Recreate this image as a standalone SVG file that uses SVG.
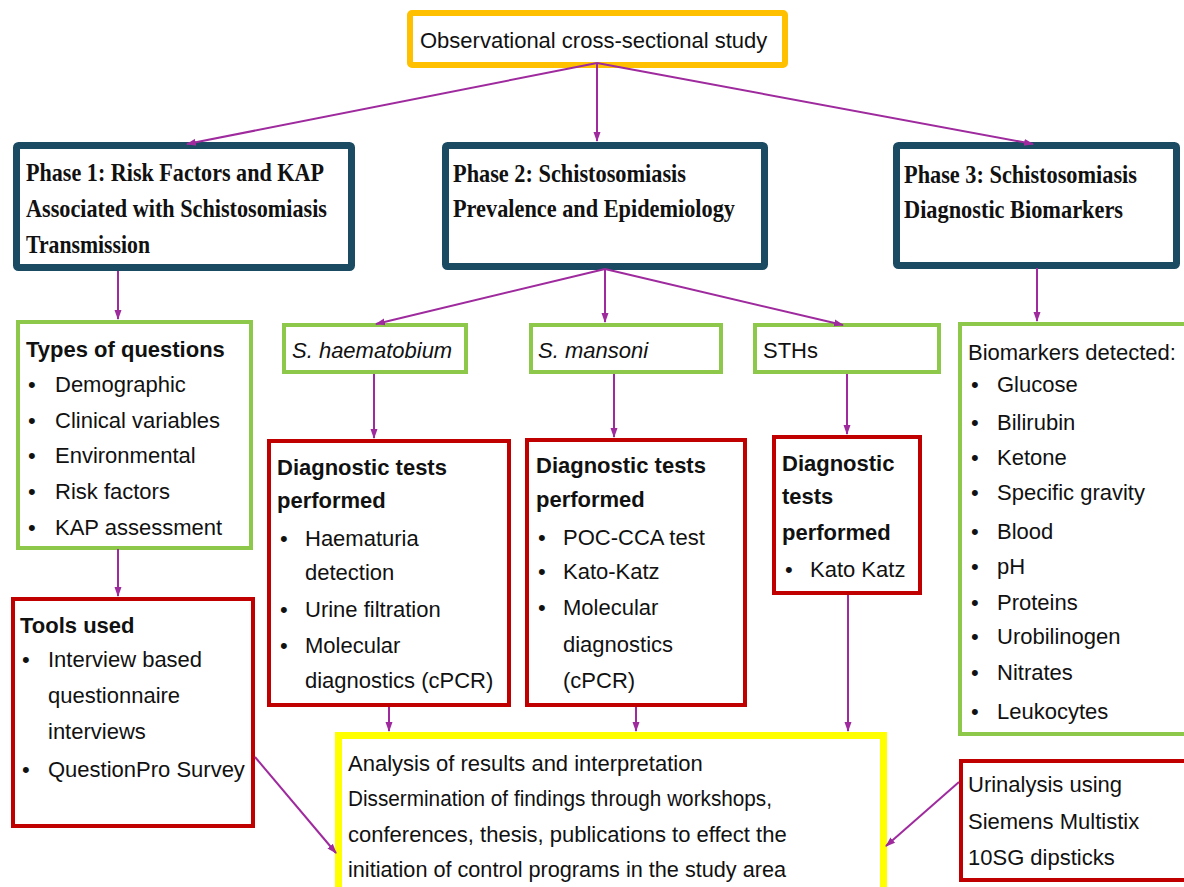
<svg xmlns="http://www.w3.org/2000/svg" width="1184" height="887" viewBox="0 0 1184 887">
<style>
  .t { font-family: "Liberation Sans", Arial, sans-serif; font-size: 22px; fill: #111; }
  .b { font-weight: bold; }
  .i { font-style: italic; }
  .h { font-family: "Liberation Serif", "Times New Roman", serif; font-size: 26px; font-weight: bold; fill: #111; }
  .phase { fill: #fff; stroke: #1B4B62; stroke-width: 7; }
  .green { fill: #fff; stroke: #8DC84B; stroke-width: 4; }
  .red { fill: #fff; stroke: #C00000; stroke-width: 4; }
  .conn { fill: none; stroke: #9E2A9E; stroke-width: 2; marker-end: url(#ah); }
</style>
<defs>
  <marker id="ah" markerUnits="userSpaceOnUse" markerWidth="10" markerHeight="10" viewBox="0 0 10 10" refX="9" refY="5" orient="auto">
    <path d="M0,1.5 L10,5 L0,8.5 Z" fill="#9E2A9E"/>
  </marker>
</defs>
<rect width="1184" height="887" fill="#fff"/>

<g id="top">
  <rect x="410" y="13" width="375" height="52" rx="2" fill="#fff" stroke="#FFC000" stroke-width="6"/>
  <text class="t" x="420" y="48">Observational cross-sectional study</text>
</g>

<g id="phase1">
  <rect class="phase" x="16.5" y="145.5" width="335" height="122" rx="2"/>
  <text class="h" x="26" y="181" textLength="298" lengthAdjust="spacingAndGlyphs">Phase 1: Risk Factors and KAP</text>
  <text class="h" x="26" y="217" textLength="301" lengthAdjust="spacingAndGlyphs">Associated with Schistosomiasis</text>
  <text class="h" x="26" y="253" textLength="124" lengthAdjust="spacingAndGlyphs">Transmission</text>
</g>

<g id="phase2">
  <rect class="phase" x="445.5" y="145.5" width="319" height="121" rx="2"/>
  <text class="h" x="453" y="182" textLength="233" lengthAdjust="spacingAndGlyphs">Phase 2: Schistosomiasis</text>
  <text class="h" x="453" y="217" textLength="282" lengthAdjust="spacingAndGlyphs">Prevalence and Epidemiology</text>
</g>

<g id="phase3">
  <rect class="phase" x="896.5" y="145.5" width="280" height="120" rx="2"/>
  <text class="h" x="904" y="183" textLength="233" lengthAdjust="spacingAndGlyphs">Phase 3: Schistosomiasis</text>
  <text class="h" x="904" y="218" textLength="219" lengthAdjust="spacingAndGlyphs">Diagnostic Biomarkers</text>
</g>

<g id="types">
  <rect class="green" x="18" y="322" width="233" height="226"/>
  <text class="t b" x="26" y="357">Types of questions</text>
  <text class="t" x="28" y="392">•</text><text class="t" x="55" y="392">Demographic</text>
  <text class="t" x="28" y="428">•</text><text class="t" x="55" y="428">Clinical variables</text>
  <text class="t" x="28" y="463">•</text><text class="t" x="55" y="463">Environmental</text>
  <text class="t" x="28" y="499">•</text><text class="t" x="55" y="499">Risk factors</text>
  <text class="t" x="28" y="535">•</text><text class="t" x="55" y="535">KAP assessment</text>
</g>

<g id="shaem">
  <rect class="green" x="284" y="325" width="182" height="47"/>
  <text class="t i" x="292" y="358">S. haematobium</text>
</g>
<g id="smansoni">
  <rect class="green" x="531" y="325" width="190" height="47"/>
  <text class="t i" x="538" y="358">S. mansoni</text>
</g>
<g id="sths">
  <rect class="green" x="755" y="325" width="184" height="47"/>
  <text class="t" x="763" y="358">STHs</text>
</g>

<g id="biomarkers">
  <rect class="green" x="960" y="324" width="240" height="410"/>
  <text class="t" x="968" y="360">Biomarkers detected:</text>
  <text class="t" x="971" y="392">•</text><text class="t" x="997" y="392">Glucose</text>
  <text class="t" x="971" y="430">•</text><text class="t" x="997" y="430">Bilirubin</text>
  <text class="t" x="971" y="465">•</text><text class="t" x="997" y="465">Ketone</text>
  <text class="t" x="971" y="500">•</text><text class="t" x="997" y="500">Specific gravity</text>
  <text class="t" x="971" y="539">•</text><text class="t" x="997" y="539">Blood</text>
  <text class="t" x="971" y="574">•</text><text class="t" x="997" y="574">pH</text>
  <text class="t" x="971" y="610">•</text><text class="t" x="997" y="610">Proteins</text>
  <text class="t" x="971" y="644">•</text><text class="t" x="997" y="644">Urobilinogen</text>
  <text class="t" x="971" y="680">•</text><text class="t" x="997" y="680">Nitrates</text>
  <text class="t" x="971" y="719">•</text><text class="t" x="997" y="719">Leukocytes</text>
</g>

<g id="diag1">
  <rect class="red" x="269" y="441" width="240" height="264"/>
  <text class="t b" x="277" y="475">Diagnostic tests</text>
  <text class="t b" x="277" y="508">performed</text>
  <text class="t" x="280" y="546">•</text><text class="t" x="305" y="546">Haematuria</text>
  <text class="t" x="305" y="580">detection</text>
  <text class="t" x="280" y="617">•</text><text class="t" x="305" y="617">Urine filtration</text>
  <text class="t" x="280" y="653">•</text><text class="t" x="305" y="653">Molecular</text>
  <text class="t" x="305" y="688">diagnostics (cPCR)</text>
</g>

<g id="diag2">
  <rect class="red" x="527" y="440" width="218" height="265"/>
  <text class="t b" x="536" y="473">Diagnostic tests</text>
  <text class="t b" x="536" y="507">performed</text>
  <text class="t" x="538" y="545">•</text><text class="t" x="563" y="545">POC-CCA test</text>
  <text class="t" x="538" y="579">•</text><text class="t" x="563" y="579">Kato-Katz</text>
  <text class="t" x="538" y="615">•</text><text class="t" x="563" y="615">Molecular</text>
  <text class="t" x="563" y="652">diagnostics</text>
  <text class="t" x="563" y="688">(cPCR)</text>
</g>

<g id="diag3">
  <rect class="red" x="774" y="437" width="146" height="156"/>
  <text class="t b" x="782" y="471">Diagnostic</text>
  <text class="t b" x="782" y="504">tests</text>
  <text class="t b" x="782" y="540">performed</text>
  <text class="t" x="785" y="577">•</text><text class="t" x="810" y="577">Kato Katz</text>
</g>

<g id="tools">
  <rect class="red" x="13" y="599" width="240" height="227"/>
  <text class="t b" x="20" y="633">Tools used</text>
  <text class="t" x="22" y="667">•</text><text class="t" x="48" y="667">Interview based</text>
  <text class="t" x="48" y="703">questionnaire</text>
  <text class="t" x="48" y="739">interviews</text>
  <text class="t" x="22" y="777">•</text><text class="t" x="48" y="777">QuestionPro Survey</text>
</g>

<g id="analysis">
  <rect x="338.5" y="735.5" width="545" height="200" fill="#fff" stroke="#FFFF00" stroke-width="7"/>
  <text class="t" x="348" y="771">Analysis of results and interpretation</text>
  <text class="t" x="348" y="806" textLength="424" lengthAdjust="spacingAndGlyphs">Dissermination of findings through workshops,</text>
  <text class="t" x="348" y="842">conferences, thesis, publications to effect the</text>
  <text class="t" x="348" y="877" textLength="438" lengthAdjust="spacingAndGlyphs">initiation of control programs in the study area</text>
</g>

<g id="urinalysis">
  <rect class="red" x="961" y="761" width="240" height="119"/>
  <text class="t" x="968" y="792">Urinalysis using</text>
  <text class="t" x="968" y="829">Siemens Multistix</text>
  <text class="t" x="968" y="865">10SG dipsticks</text>
</g>

<g id="connectors">
  <line class="conn" x1="597" y1="63" x2="187" y2="144"/>
  <line class="conn" x1="597" y1="63" x2="597" y2="141"/>
  <line class="conn" x1="597" y1="63" x2="1033" y2="144"/>
  <line class="conn" x1="118" y1="271" x2="118" y2="319"/>
  <line class="conn" x1="605" y1="269" x2="376" y2="324"/>
  <line class="conn" x1="605" y1="269" x2="605" y2="322"/>
  <line class="conn" x1="605" y1="269" x2="843" y2="325"/>
  <line class="conn" x1="1037" y1="268" x2="1037" y2="321"/>
  <line class="conn" x1="118" y1="549" x2="118" y2="596"/>
  <line class="conn" x1="374" y1="374" x2="374" y2="438"/>
  <line class="conn" x1="614" y1="374" x2="614" y2="437"/>
  <line class="conn" x1="847" y1="374" x2="847" y2="434"/>
  <line class="conn" x1="389" y1="707" x2="389" y2="731"/>
  <line class="conn" x1="636" y1="707" x2="636" y2="731"/>
  <line class="conn" x1="848" y1="595" x2="848" y2="731"/>
  <line class="conn" x1="255" y1="757" x2="336" y2="853"/>
  <line class="conn" x1="959" y1="782" x2="886" y2="846"/>
</g>
</svg>
